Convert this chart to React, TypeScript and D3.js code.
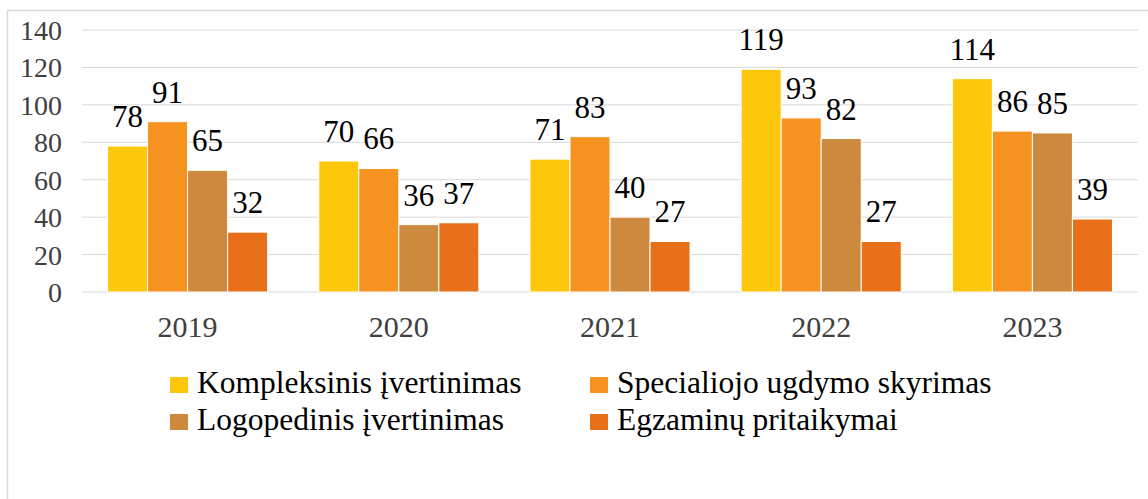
import React from "react";
import * as d3 from "d3";

const years = ["2019", "2020", "2021", "2022", "2023"];
const seriesNames = [
  "Kompleksinis įvertinimas",
  "Specialiojo ugdymo skyrimas",
  "Logopedinis įvertinimas",
  "Egzaminų pritaikymai",
];
const kompleksinis = [78, 70, 71, 119, 114];
const specialiojo = [91, 66, 83, 93, 86];
const logopedinis = [65, 36, 40, 82, 85];
const egzaminu = [32, 37, 27, 27, 39];
const yTicks = [0, 20, 40, 60, 80, 100, 120, 140];
const colors = ["#FDC80C", "#F6921F", "#CD8A3F", "#E9701A"];

const W = 1148;
const H = 499;
const FONT = "Liberation Serif";

export default function App() {
  const series = [kompleksinis, specialiojo, logopedinis, egzaminu];
  const left = 82;
  const right = 1138;
  const top = 30;
  const bottom = 292;
  const x = d3.scaleBand<string>().domain(years).range([left, right]).paddingInner(0).paddingOuter(0);
  const y = d3.scaleLinear().domain([0, 140]).range([bottom, top]);
  const groupW = x.bandwidth() * 0.758;
  const x1 = d3.scaleBand<number>().domain([0, 1, 2, 3]).range([0, groupW]).padding(0);

  const legendItems = [
    { i: 0, x: 170, y: 393 },
    { i: 1, x: 590, y: 393 },
    { i: 2, x: 170, y: 430 },
    { i: 3, x: 590, y: 430 },
  ];

  return (
    <svg
      width={W}
      height={H}
      fontFamily={FONT}
      style={{ position: "absolute", left: 0, top: 0, display: "block" }}
    >
      <style>{`text { font-family: "Liberation Serif", "Times New Roman", Tinos, serif; }`}</style>
      <rect x={0} y={0} width={W} height={H} fill="#fff" />
      <path d={`M7.5,${H} V10.5 H${W}`} fill="none" stroke="#d9d9d9" strokeWidth={1.5} />
      {yTicks.map((t) => (
        <line key={"g" + t} x1={left} x2={right} y1={y(t)} y2={y(t)} stroke="#d9d9d9" strokeWidth={1} />
      ))}
      {yTicks.map((t) => (
        <text key={"t" + t} x={62} y={y(t) + 10} textAnchor="end" fontSize={28} fill="#404040">
          {t}
        </text>
      ))}
      {years.map((yr, gi) => {
        const gx = (x(yr) as number) + (x.bandwidth() - groupW) / 2;
        return (
          <g key={yr}>
            {series.map((s, si) => {
              const bx = gx + (x1(si) as number);
              const bw = x1.bandwidth();
              const v = s[gi];
              return (
                <g key={si}>
                  <rect
                    x={bx}
                    y={y(v)}
                    width={bw}
                    height={bottom - y(v)}
                    fill={colors[si]}
                    stroke="#fff"
                    strokeWidth={1}
                  />
                  <text x={bx + bw / 2} y={y(v) - 19} textAnchor="middle" fontSize={31} fill="#000">
                    {v}
                  </text>
                </g>
              );
            })}
            <text
              x={(x(yr) as number) + x.bandwidth() / 2}
              y={337}
              textAnchor="middle"
              fontSize={30}
              fill="#404040"
            >
              {yr}
            </text>
          </g>
        );
      })}
      {legendItems.map((l) => (
        <g key={l.i}>
          <rect x={l.x} y={l.y - 16} width={18} height={16} fill={colors[l.i]} />
          <text x={l.x + 27} y={l.y} fontSize={31.5} fill="#000">
            {seriesNames[l.i]}
          </text>
        </g>
      ))}
    </svg>
  );
}
